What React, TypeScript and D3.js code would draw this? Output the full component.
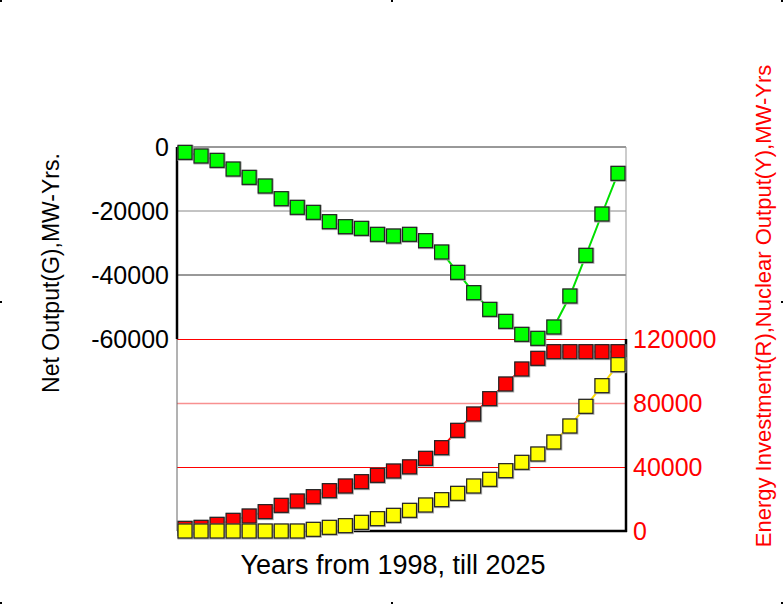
import React, { useRef, useEffect } from 'react';
import * as d3 from 'd3';

// Years 1998..2025
const years = [
    1998, 1999, 2000, 2001, 2002, 2003, 2004, 2005, 2006, 2007, 2008, 2009, 2010, 2011,
    2012, 2013, 2014, 2015, 2016, 2017, 2018, 2019, 2020, 2021, 2022, 2023, 2024, 2025,
];

// Net output (G), left axis
const netOutput = [
    -1670, -2810, -4170, -6880, -9480, -12190, -16150, -18850, -20420, -23330, -24900,
    -25420, -27290, -27810, -27290, -29270, -32810, -39170, -45520, -50730, -54480,
    -58540, -59790, -56250, -46560, -33850, -20940, -8230,
];

// Energy investment (R), right axis
const energyInvestment = [
    1670, 2300, 4170, 6670, 9375, 12100, 16040, 18750, 21460, 25210, 28125, 30830, 34790,
    37500, 40100, 45420, 52080, 62920, 73125, 82710, 91875, 101250, 107920, 112080,
    112080, 112080, 112080, 112080,
];

// Nuclear output (Y), right axis
const nuclearOutput = [
    0, 0, 0, 0, 0, 0, 0, 0, 1040, 2290, 3330, 5420, 7710, 9790, 12920, 16250, 19580,
    23540, 28125, 32290, 37710, 42920, 48125, 55625, 65625, 77920, 90830, 103960,
];

const leftTicks = [0, -20000, -40000, -60000];
const rightTicks = [0, 40000, 80000, 120000];

const App: React.FC = () => {
    const svgRef = useRef<SVGSVGElement | null>(null);

    useEffect(() => {
        if (!svgRef.current) return;
        const svg = d3.select(svgRef.current);
        svg.selectAll('*').remove();

        const left = 177;
        const right = 626;
        const top = 147;
        const mid = 339;
        const bottom = 531;
        const font = "'Liberation Sans', Arial, sans-serif";

        const x = d3
            .scalePoint<number>()
            .domain(years)
            .range([left, right])
            .padding(0.5);
        const yLeft = d3.scaleLinear().domain([-60000, 0]).range([mid, top]);
        const yRight = d3.scaleLinear().domain([0, 120000]).range([bottom, mid]);

        // edge ticks of the frame
        const edgeMarks = [
            [0, 0], [391, 0], [781, 0], [0, 301], [781, 301], [0, 602], [391, 602], [781, 602],
        ];
        svg.append('g')
            .selectAll('rect')
            .data(edgeMarks)
            .enter()
            .append('rect')
            .attr('x', (d) => d[0])
            .attr('y', (d) => d[1])
            .attr('width', 2)
            .attr('height', 2)
            .attr('fill', '#000');

        // upper grid (left axis)
        const gridColors: Record<number, string> = {
            0: '#333',
            [-20000]: '#888',
            [-40000]: '#333',
        };
        svg.append('g')
            .selectAll('line')
            .data(leftTicks.filter((t) => t !== -60000))
            .enter()
            .append('line')
            .attr('x1', left)
            .attr('x2', right)
            .attr('y1', (d) => yLeft(d))
            .attr('y2', (d) => yLeft(d))
            .attr('stroke', (d) => gridColors[d])
            .attr('stroke-width', 1);

        // lower grid (right axis)
        const rightGridColors: Record<number, string> = {
            40000: '#f00',
            80000: '#f89090',
            120000: '#f00',
        };
        svg.append('g')
            .selectAll('line')
            .data(rightTicks.filter((t) => t !== 0))
            .enter()
            .append('line')
            .attr('x1', left)
            .attr('x2', right)
            .attr('y1', (d) => yRight(d) + 0.5)
            .attr('y2', (d) => yRight(d) + 0.5)
            .attr('stroke', (d) => rightGridColors[d])
            .attr('stroke-width', (d) => (d === 80000 ? 1.5 : 1));

        // frame
        svg.append('line')
            .attr('x1', right).attr('x2', right)
            .attr('y1', top).attr('y2', mid)
            .attr('stroke', '#999').attr('stroke-width', 1);
        svg.append('line')
            .attr('x1', left).attr('x2', left)
            .attr('y1', mid).attr('y2', bottom)
            .attr('stroke', '#666').attr('stroke-width', 1);
        svg.append('line')
            .attr('x1', left).attr('x2', left)
            .attr('y1', top).attr('y2', mid)
            .attr('stroke', '#000').attr('stroke-width', 2.5);
        svg.append('line')
            .attr('x1', right).attr('x2', right)
            .attr('y1', mid).attr('y2', bottom + 1)
            .attr('stroke', '#000').attr('stroke-width', 2.5);
        svg.append('line')
            .attr('x1', left).attr('x2', right + 1)
            .attr('y1', bottom).attr('y2', bottom)
            .attr('stroke', '#000').attr('stroke-width', 2.5);

        // tick labels
        svg.append('g')
            .selectAll('text')
            .data(leftTicks)
            .enter()
            .append('text')
            .attr('x', 169)
            .attr('y', (d) => yLeft(d))
            .attr('dy', '0.36em')
            .attr('text-anchor', 'end')
            .attr('font-family', font)
            .attr('font-size', 25)
            .attr('fill', '#000')
            .text((d) => String(d));

        svg.append('g')
            .selectAll('text')
            .data(rightTicks)
            .enter()
            .append('text')
            .attr('x', 633)
            .attr('y', (d) => yRight(d))
            .attr('dy', '0.36em')
            .attr('text-anchor', 'start')
            .attr('font-family', font)
            .attr('font-size', 25)
            .attr('fill', '#f00')
            .text((d) => String(d));

        // axis titles
        svg.append('text')
            .attr('transform', 'translate(59,273) rotate(-90)')
            .attr('text-anchor', 'middle')
            .attr('font-family', font)
            .attr('font-size', 23)
            .attr('fill', '#000')
            .text('Net Output(G),MW-Yrs.');
        svg.append('text')
            .attr('transform', 'translate(771,306) rotate(-90)')
            .attr('text-anchor', 'middle')
            .attr('font-family', font)
            .attr('font-size', 22)
            .attr('fill', '#f00')
            .text('Energy Investment(R),Nuclear Output(Y),MW-Yrs');
        svg.append('text')
            .attr('x', 393)
            .attr('y', 574)
            .attr('text-anchor', 'middle')
            .attr('font-family', font)
            .attr('font-size', 27)
            .attr('fill', '#000')
            .text('Years from 1998, till 2025');

        // series
        const series = [
            { values: energyInvestment, y: yRight, fill: '#ff0000', line: '#ff0000' },
            { values: nuclearOutput, y: yRight, fill: '#ffff00', line: '#ffdd00' },
            { values: netOutput, y: yLeft, fill: '#00ff00', line: '#00e000' },
        ];
        const size = 14;

        series.forEach((s) => {
            const pts = s.values.map((v, i) => ({ yr: years[i], v }));
            const line = d3
                .line<{ yr: number; v: number }>()
                .x((d) => x(d.yr)!)
                .y((d) => s.y(d.v));
            const g = svg.append('g');
            g.append('path')
                .datum(pts)
                .attr('d', line)
                .attr('fill', 'none')
                .attr('stroke', s.line)
                .attr('stroke-width', 2);

            const m = g.selectAll('g.mk').data(pts).enter().append('g').attr('class', 'mk');
            m.append('rect')
                .attr('x', (d) => x(d.yr)! - size / 2 - 0.5)
                .attr('y', (d) => s.y(d.v) - size / 2 - 0.5)
                .attr('width', size + 2)
                .attr('height', size + 2)
                .attr('fill', '#aaa');
            m.append('rect')
                .attr('x', (d) => x(d.yr)! - size / 2)
                .attr('y', (d) => s.y(d.v) - size / 2)
                .attr('width', size)
                .attr('height', size)
                .attr('fill', s.fill)
                .attr('stroke', '#222')
                .attr('stroke-width', 1.2);
        });
    }, []);

    return (
        <svg
            ref={svgRef}
            width={783}
            height={604}
            style={{ position: 'absolute', left: 0, top: 0, background: '#fff' }}
        ></svg>
    );
};

export default App;
